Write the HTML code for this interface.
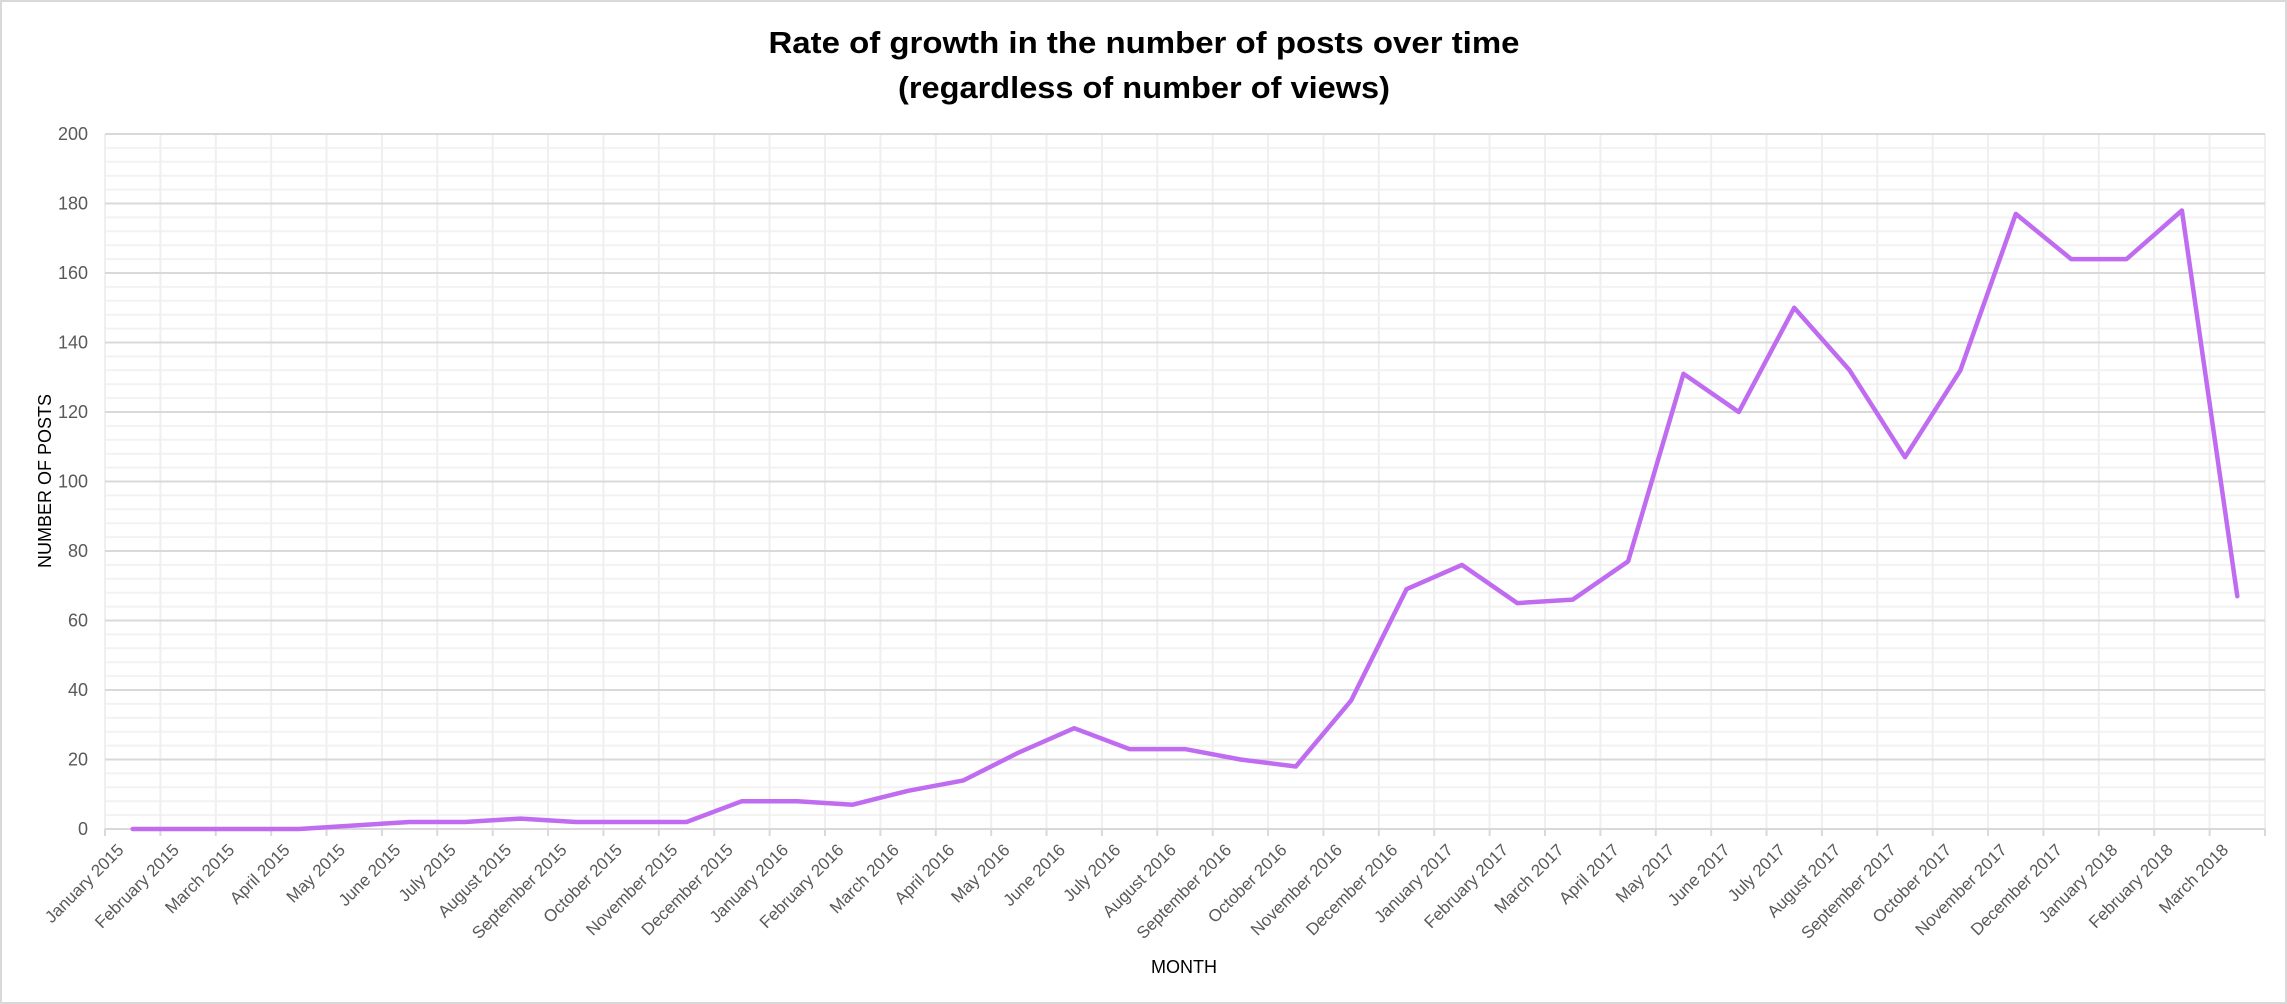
<!DOCTYPE html>
<html><head><meta charset="utf-8"><style>
body{margin:0;background:#fff}
svg{display:block;font-family:"Liberation Sans",sans-serif}
</style></head><body>
<svg id="chart" width="2287" height="1004">
<rect x="1" y="1" width="2285" height="1002" fill="#fff" stroke="#d9d9d9" stroke-width="2"/>
<text x="1144" y="53" text-anchor="middle" font-size="31" font-weight="bold" textLength="751" lengthAdjust="spacingAndGlyphs">Rate of growth in the number of posts over time</text>
<text x="1144" y="98" text-anchor="middle" font-size="31" font-weight="bold" textLength="492" lengthAdjust="spacingAndGlyphs">(regardless of number of views)</text>
<g id="grid"></g>
<g id="yticks"></g>
<g id="xticks"></g>
<path id="line" fill="none" stroke="#c06cf0" stroke-width="4.5" stroke-linejoin="round" stroke-linecap="round"/>
<text x="0" y="0" transform="translate(51,481) rotate(-90)" text-anchor="middle" font-size="18" fill="#000">NUMBER OF POSTS</text>
<text x="1184" y="973" text-anchor="middle" font-size="18" fill="#000">MONTH</text>
</svg>
<script>
const categories=["January 2015","February 2015","March 2015","April 2015","May 2015","June 2015","July 2015","August 2015","September 2015","October 2015","November 2015","December 2015","January 2016","February 2016","March 2016","April 2016","May 2016","June 2016","July 2016","August 2016","September 2016","October 2016","November 2016","December 2016","January 2017","February 2017","March 2017","April 2017","May 2017","June 2017","July 2017","August 2017","September 2017","October 2017","November 2017","December 2017","January 2018","February 2018","March 2018"];
const postCounts=[0,0,0,0,1,2,2,3,2,2,2,8,8,7,11,14,22,29,23,23,20,18,37,69,76,65,66,77,131,120,150,132,107,132,177,164,164,178,67];
const yTickLabels=[0,20,40,60,80,100,120,140,160,180,200];
const NS="http://www.w3.org/2000/svg";
const L=105,R=2265,T=134,B=829,yMax=200;
const bw=(R-L)/categories.length;
function xEdge(i){return L+i*bw;}
function xC(i){return L+(i+0.5)*bw;}
function yS(v){return B-(v/yMax)*(B-T);}
function mk(tag,attrs,parent){const e=document.createElementNS(NS,tag);for(const k in attrs)e.setAttribute(k,attrs[k]);parent.appendChild(e);return e;}
const grid=document.getElementById('grid');
for(let v=0;v<=yMax;v+=4){
  if(v%20===0)continue;
  const ln=mk('line',{x1:L,x2:R,y1:yS(v),y2:yS(v),stroke:'#f2f2f2','stroke-width':2},grid);
  
  
}
for(let i=0;i<=categories.length;i++){
  const ln=mk('line',{x1:xEdge(i),x2:xEdge(i),y1:T,y2:B,stroke:'#efefef','stroke-width':2},grid);
  
  
}
const yt=document.getElementById('yticks');
yTickLabels.forEach(v=>{
  const ln=mk('line',{x1:L,x2:R,y1:yS(v),y2:yS(v),stroke:'#d9d9d9','stroke-width':2},grid);
  
  
  const t=mk('text',{x:L-17,y:yS(v)+6,'text-anchor':'end','font-size':18,fill:'#595959'},yt);
  t.textContent=v;
  
  
});
const xt=document.getElementById('xticks');
categories.forEach((c,i)=>{
  const tk=mk('line',{x1:xEdge(i),x2:xEdge(i),y1:B,y2:B+7,stroke:'#d9d9d9','stroke-width':2},xt);
  
  
  const x=xC(i)-8,y=B+22;
  const t=mk('text',{x:x,y:y,'text-anchor':'end','font-size':17,fill:'#595959',transform:`rotate(-45 ${x} ${y})`},xt);
  t.textContent=c;
  
  
});
const tk2=mk('line',{x1:R,x2:R,y1:B,y2:B+7,stroke:'#d9d9d9','stroke-width':2},xt);


document.getElementById('line').setAttribute('d',postCounts.map((v,i)=>(i?'L':'M')+xC(i).toFixed(1)+' '+yS(v).toFixed(1)).join(' '));
</script>
</body></html>
